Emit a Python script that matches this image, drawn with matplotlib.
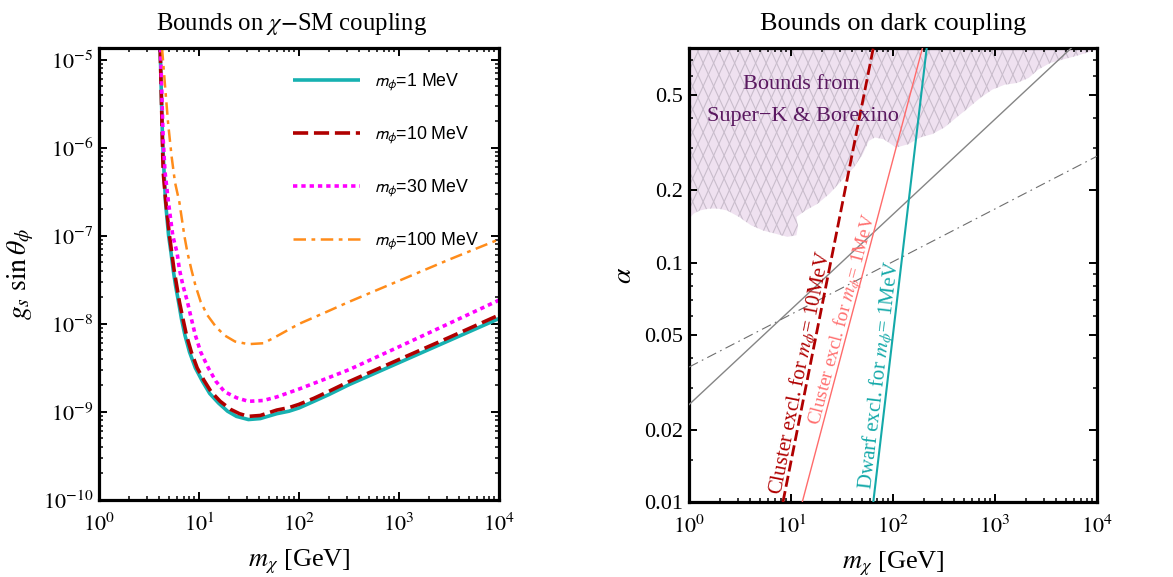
import numpy as np
import matplotlib
matplotlib.use("Agg")
import matplotlib.pyplot as plt
from matplotlib.collections import LineCollection
from matplotlib.patches import Polygon
from matplotlib.font_manager import FontProperties
from matplotlib.ticker import FixedLocator, NullFormatter, LogLocator, FixedFormatter
import matplotlib.transforms as mtransforms

plt.rcParams['font.family'] = ['Liberation Serif', 'DejaVu Serif']
plt.rcParams['mathtext.fontset'] = 'stix'

# ---------------- Left panel data ----------------
mchi_1MeV = [4.09, 4.23, 4.32, 4.47, 4.63, 4.97, 5.25, 5.51, 5.82, 6.24, 6.67, 7.24, 8.04, 9.20, 10.8, 12.8,
             15.7, 19.3, 23.7, 31.2, 41.0, 59.8, 79.4, 100, 141, 200, 316, 1000, 3162, 10000]
g_1MeV = [1.36e-5, 3.02e-6, 1.26e-6, 5.37e-7, 2.40e-7, 1.0e-7, 6.46e-8, 4.17e-8, 2.75e-8, 1.78e-8, 1.15e-8,
          7.41e-9, 4.79e-9, 3.16e-9, 2.24e-9, 1.62e-9, 1.26e-9, 1.02e-9, 8.91e-10, 8.20e-10, 8.41e-10, 9.55e-10,
          1.02e-9, 1.11e-9, 1.32e-9, 1.58e-9, 2.04e-9, 3.63e-9, 6.46e-9, 1.15e-8]

mchi_10MeV = [4.09, 4.38, 4.66, 5.07, 5.62, 6.37, 6.90, 7.50, 8.38, 9.59, 11.2, 13.2, 16.3, 20.7, 25.4, 31.2,
              41.0, 59.8, 79.4, 100, 141, 200, 316, 1000, 3162, 10000]
g_10MeV = [1.36e-5, 5.37e-7, 2.40e-7, 1.0e-7, 4.17e-8, 1.78e-8, 1.15e-8, 7.41e-9, 4.79e-9, 3.16e-9, 2.29e-9,
           1.70e-9, 1.32e-9, 1.07e-9, 9.55e-10, 8.91e-10, 9.12e-10, 1.05e-9, 1.12e-9, 1.22e-9, 1.43e-9, 1.72e-9,
           2.21e-9, 3.94e-9, 7.0e-9, 1.26e-8]

mchi_30MeV = [4.12, 4.38, 4.57, 4.95, 5.47, 6.03, 6.37, 6.90, 7.66, 8.38, 9.20, 10.4, 12.4, 14.7, 18.0, 23.7,
              31.2, 44.0, 59.8, 100, 178, 316, 1000, 3162, 10000]
g_30MeV = [1.36e-5, 1.26e-6, 5.37e-7, 2.40e-7, 1.0e-7, 6.46e-8, 4.17e-8, 2.75e-8, 1.78e-8, 1.15e-8, 7.41e-9,
           4.79e-9, 3.16e-9, 2.24e-9, 1.70e-9, 1.45e-9, 1.32e-9, 1.35e-9, 1.48e-9, 1.82e-9, 2.34e-9, 3.02e-9,
           5.5e-9, 1.01e-8, 1.86e-8]

mchi_100MeV = [4.27, 4.60, 4.90, 5.31, 5.75, 6.37, 7.14, 7.66, 8.38, 9.20, 10.4, 12.1, 14.7, 18.0, 22.9, 31.2,
               44.0, 57.8, 100, 178, 316, 1000, 3162, 10000]
g_100MeV = [1.36e-5, 4.68e-6, 1.95e-6, 8.13e-7, 4.07e-7, 2.40e-7, 1.0e-7, 6.46e-8, 4.17e-8, 2.75e-8, 1.78e-8,
            1.26e-8, 9.33e-9, 7.41e-9, 6.31e-9, 5.89e-9, 6.03e-9, 7.08e-9, 1.0e-8, 1.33e-8, 1.78e-8, 3.09e-8,
            5.37e-8, 9.12e-8]

left_labels = [r"$m_\phi$=1 MeV", r"$m_\phi$=10 MeV", r"$m_\phi$=30 MeV", r"$m_\phi$=100 MeV"]

# ---------------- Right panel data ----------------
clus10_m = [8.34, 64.1]
clus10_a = [0.01, 0.787]
clus1_m = [12.9, 194.5]
clus1_a = [0.01, 0.787]
dwarf_m = [64.1, 214.0]
dwarf_a = [0.01, 0.787]
gray_m = [1.0, 5600.0]
gray_a = [0.0255, 0.787]
graydd_m = [1.0, 10000.0]
graydd_a = [0.0366, 0.278]

bx_m = [1.0, 1.11, 1.28, 1.57, 1.92, 2.36, 3.10, 4.06, 5.35, 7.02, 9.20, 11.3, 11.7, 11.3, 13.9, 18.2, 23.9, 31.4,
        41.2, 50.6, 57.9, 66.4, 81.5, 107, 141, 185, 243, 318, 418, 550, 721, 946, 1245, 1633, 2143, 2630, 3467,
        6026, 10000]
bx_a = [0.152, 0.160, 0.165, 0.168, 0.168, 0.165, 0.155, 0.143, 0.136, 0.132, 0.128, 0.130, 0.141, 0.155, 0.165,
        0.176, 0.194, 0.220, 0.249, 0.284, 0.322, 0.333, 0.327, 0.302, 0.312, 0.333, 0.344, 0.366, 0.403, 0.443,
        0.488, 0.528, 0.553, 0.562, 0.590, 0.638, 0.681, 0.726, 0.774]

# ---------------- Figure ----------------
W, H = 1173, 577
fig = plt.figure(figsize=(W / 100, H / 100), dpi=100)
axL = fig.add_axes([99 / W, 77 / H, 400 / W, 452 / H])
axR = fig.add_axes([689 / W, 75 / H, 408 / W, 454 / H])


def style_axes(ax):
    ax.set_xscale('log')
    ax.set_yscale('log')
    for s in ax.spines.values():
        s.set_linewidth(2.3)
    ax.tick_params(which='both', direction='in', top=True, right=True, labelsize=16)
    ax.tick_params(which='major', length=6, width=1.4)
    ax.tick_params(which='minor', length=3.2, width=1.1)
    ax.tick_params(axis='x', which='major', pad=10)
    ax.tick_params(axis='y', which='major', pad=4)
    ax.set_xlim(1, 1e4)
    ax.xaxis.set_major_locator(FixedLocator([1, 10, 100, 1000, 10000]))
    ax.xaxis.set_major_formatter(FixedFormatter([r"$10^{0}$", r"$10^{1}$", r"$10^{2}$", r"$10^{3}$", r"$10^{4}$"]))
    ax.xaxis.set_minor_locator(LogLocator(base=10, subs=np.arange(2, 10), numticks=50))
    ax.xaxis.set_minor_formatter(NullFormatter())


# Left panel
style_axes(axL)
axL.plot(mchi_1MeV, g_1MeV, color='#17b1b1', lw=2.6, label=left_labels[0], solid_capstyle='butt')
axL.plot(mchi_10MeV, g_10MeV, color='#b00000', lw=2.6, dashes=(4.2, 1.6), label=left_labels[1])
axL.plot(mchi_30MeV, g_30MeV, color='#ff00ff', lw=2.6, dashes=(1.2, 1.1), label=left_labels[2])
axL.plot(mchi_100MeV, g_100MeV, color='#ff8c1a', lw=1.8, dashes=(5, 2.2, 1.5, 2.2), label=left_labels[3])
axL.set_ylim(1e-10, 1.36e-5)
axL.yaxis.set_major_locator(FixedLocator([1e-10, 1e-9, 1e-8, 1e-7, 1e-6, 1e-5]))
axL.yaxis.set_major_formatter(FixedFormatter([r"$10^{-10}$", r"$10^{-9}$", r"$10^{-8}$", r"$10^{-7}$",
                                              r"$10^{-6}$", r"$10^{-5}$"]))
axL.yaxis.set_minor_locator(LogLocator(base=10, subs=np.arange(2, 10), numticks=50))
axL.yaxis.set_minor_formatter(NullFormatter())
axL.set_title(r"Bounds on $\chi$$-$SM coupling", fontsize=17.8, pad=13, x=0.482)
axL.set_xlabel(r"$m_\chi$ [GeV]", fontsize=19)
axL.xaxis.set_label_coords(0.5, -0.105)
axL.set_ylabel(r"$g_s\ \sin\theta_\phi$", fontsize=20)
axL.yaxis.set_label_coords(-0.158, 0.5)
leg_prop = FontProperties(family='Liberation Sans', size=12.8, math_fontfamily='stixsans')
axL.legend(loc='upper left', bbox_to_anchor=(0.485, 0.948), frameon=False, prop=leg_prop,
           handlelength=3.77, handletextpad=0.8, labelspacing=1.78, borderpad=0, borderaxespad=0)

# Right panel
style_axes(axR)
axR.set_ylim(0.01, 0.787)
axR.yaxis.set_major_locator(FixedLocator([0.01, 0.02, 0.05, 0.1, 0.2, 0.5]))
axR.yaxis.set_major_formatter(FixedFormatter(['0.01', '0.02', '0.05', '0.1', '0.2', '0.5']))
axR.yaxis.set_minor_locator(FixedLocator([0.015, 0.03, 0.04, 0.06, 0.07, 0.08, 0.09, 0.3, 0.4, 0.6, 0.7]))
axR.yaxis.set_minor_formatter(NullFormatter())

poly_m = bx_m + [bx_m[-1], bx_m[0]]
poly_a = bx_a + [1.0, 1.0]
poly = Polygon(np.column_stack([poly_m, poly_a]), closed=True, facecolor='#efe1f0', edgecolor='none', zorder=1)
axR.add_patch(poly)
# cross-hatching (decoration), clipped to the excluded region
aw, ah = 408.0, 454.0
steep = 2.2
step = 10.5
segs = []
run = ah / steep
for c in np.arange(-run, aw + run, step):
    segs.append([(c / aw, 0.0), ((c + run) / aw, 1.0)])
    segs.append([(c / aw, 0.0), ((c - run) / aw, 1.0)])
lc = LineCollection(segs, colors='#c9bdcc', linewidths=0.8, transform=axR.transAxes, zorder=1.5)
axR.add_collection(lc)
lc.set_clip_path(poly)

axR.text(10 ** 1.10, 0.553, "Bounds from", color='#5a1860', fontsize=16, ha='center', va='center', zorder=5)
axR.text(10 ** 1.12, 0.409, "Super\u2212K & Borexino", color='#5a1860', fontsize=16, ha='center', va='center', zorder=5)

axR.plot(gray_m, gray_a, color='#858585', lw=1.0, zorder=3)
axR.plot(graydd_m, graydd_a, color='#6e6e6e', lw=0.8, dashes=(9, 4, 1.5, 4), zorder=3)
axR.plot(clus10_m, clus10_a, color='#b00000', lw=2.0, dashes=(4, 1.6), zorder=4)
axR.plot(clus1_m, clus1_a, color='#ff6b6b', lw=1.0, zorder=4)
axR.plot(dwarf_m, dwarf_a, color='#14a9a9', lw=1.5, zorder=4)

axR.set_title("Bounds on dark coupling", fontsize=19, pad=13)
axR.set_xlabel(r"$m_\chi$ [GeV]", fontsize=19)
axR.xaxis.set_label_coords(0.5, -0.105)
axR.set_ylabel(r"$\alpha$", fontsize=20)
axR.yaxis.set_label_coords(-0.127, 0.5)


def along(ax, xs, ys, a_start, text, color, size, off=3.0):
    lx0, lx1 = np.log10(xs)
    ly0, ly1 = np.log10(ys)
    p0 = ax.transData.transform((xs[0], ys[0]))
    p1 = ax.transData.transform((xs[1], ys[1]))
    ang = np.degrees(np.arctan2(p1[1] - p0[1], p1[0] - p0[0]))
    la = np.log10(a_start)
    lx = lx0 + (la - ly0) * (lx1 - lx0) / (ly1 - ly0)
    th = np.radians(ang)
    tr = mtransforms.offset_copy(ax.transData, fig=fig, x=-off * np.sin(th), y=off * np.cos(th), units='dots')
    ax.text(10 ** lx, a_start, text, color=color, fontsize=size, rotation=ang, rotation_mode='anchor',
            ha='left', va='baseline', transform=tr, zorder=6)


along(axR, clus10_m, clus10_a, 0.0106, r"Cluster excl. for $m_\phi$= 10MeV", '#b00000', 15, off=3)
along(axR, clus1_m, clus1_a, 0.0206, r"Cluster excl. for $m_\phi$= 1MeV", '#ff7070', 13.8, off=3)
along(axR, dwarf_m, dwarf_a, 0.0112, r"Dwarf excl. for $m_\phi$= 1MeV", '#14a9a9', 15, off=3)

fig.savefig("out.png", dpi=100)
